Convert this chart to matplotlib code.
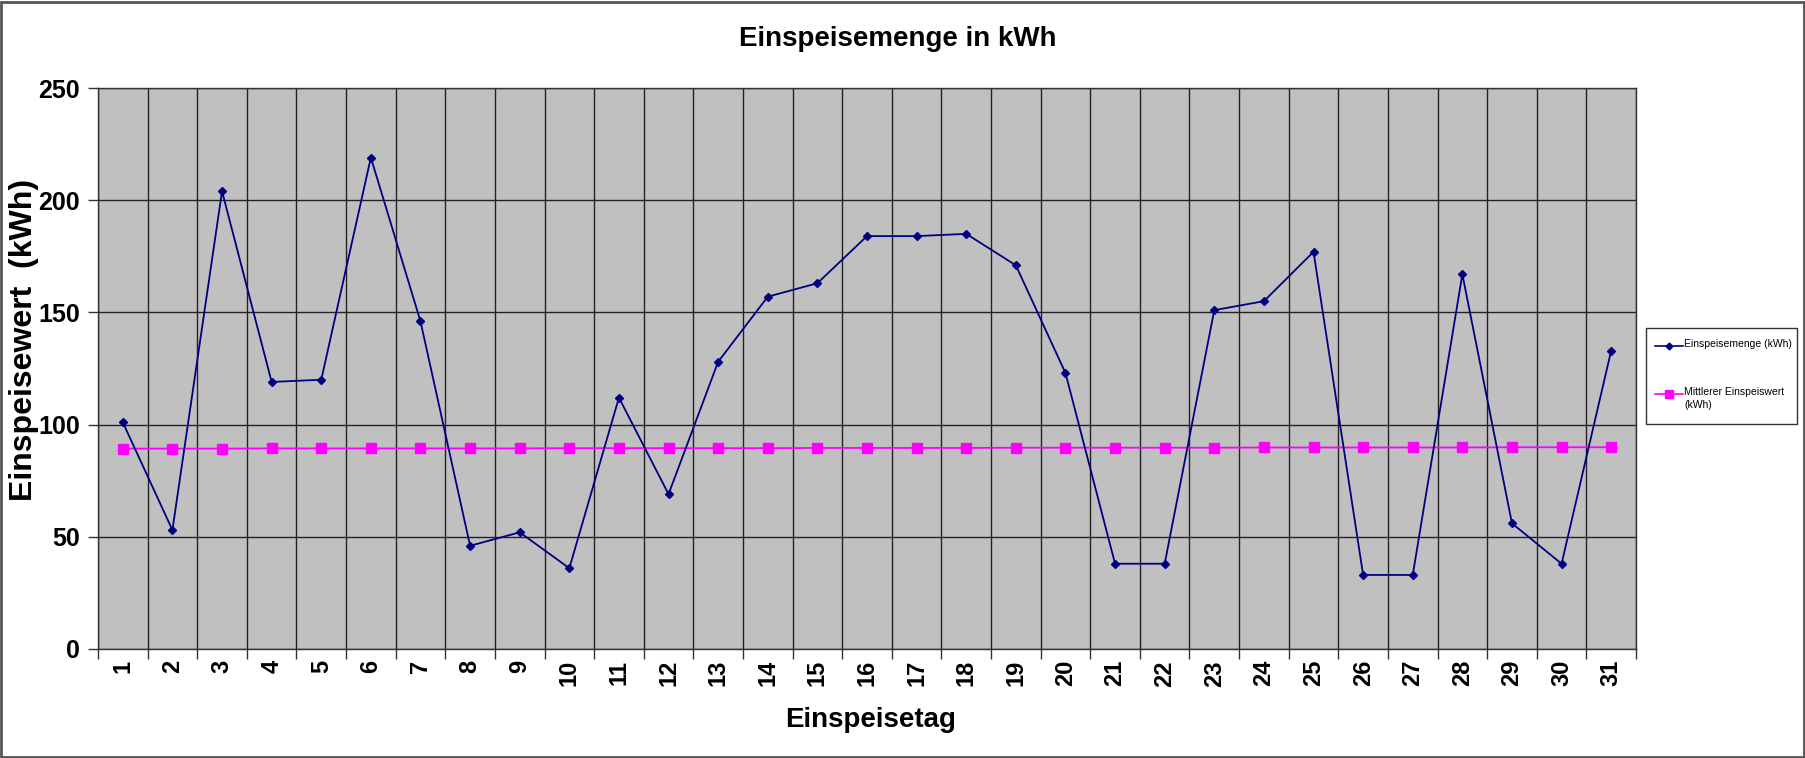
import matplotlib
matplotlib.use("Agg")
import matplotlib.pyplot as plt
from matplotlib.patches import Rectangle
from matplotlib.lines import Line2D

days = list(range(1, 32))
einspeisemenge = [101, 53, 204, 119, 120, 219, 146, 46, 52, 36, 112, 69, 128, 157, 163,
                  184, 184, 185, 171, 123, 38, 38, 151, 155, 177, 33, 33, 167, 56, 38, 133]
mittlerer = [89.3, 89.3, 89.3, 89.4, 89.4, 89.4, 89.4, 89.4, 89.4, 89.5, 89.5, 89.5, 89.5,
             89.5, 89.6, 89.6, 89.6, 89.6, 89.7, 89.7, 89.7, 89.7, 89.7, 89.8, 89.8, 89.8,
             89.8, 89.8, 89.9, 89.9, 89.9]
title = "Einspeisemenge in kWh"
xlabel = "Einspeisetag"
ylabel = "Einspeisewert  (kWh)"
series_names = ["Einspeisemenge (kWh)", "Mittlerer Einspeiswert\n(kWh)"]

plt.rcParams['font.family'] = ['Liberation Sans', 'DejaVu Sans']

W, H = 1806, 758
fig = plt.figure(figsize=(W / 100, H / 100), dpi=100)
fig.patch.set_facecolor('white')
# figure border
fig.add_artist(Rectangle((1 / W, 1 / H), 1 - 3 / W, 1 - 3 / H, transform=fig.transFigure,
                         fill=False, edgecolor='#555555', linewidth=2))

left, right, top, bottom = 98, 1636, 88, 649
ax = fig.add_axes([left / W, 1 - bottom / H, (right - left) / W, (bottom - top) / H])
ax.set_facecolor('#C0C0C0')

ax.plot(days, einspeisemenge, color='#000080', linewidth=1.3, marker='D', markersize=4.5,
        markerfacecolor='#000080', markeredgecolor='#000080', zorder=4,
        label=series_names[0])
ax.plot(days, mittlerer, color='#FF00FF', linewidth=1.3, marker='s', markersize=7,
        markerfacecolor='#FF00FF', markeredgecolor='#FF00FF', zorder=3,
        label=series_names[1])

ax.set_xlim(0.5, 31.5)
ax.set_ylim(0, 250)
ax.set_yticks([0, 50, 100, 150, 200, 250])
ax.set_yticklabels(['0', '50', '100', '150', '200', '250'], fontsize=18, fontweight='bold')

# category ticks at boundaries, labels at centers
ax.set_xticks([d - 0.5 for d in days] + [31.5])
ax.set_xticklabels([])
ax.set_xticks(days, minor=True)
ax.set_xticklabels([str(d) for d in days], minor=True, rotation=90, fontsize=17,
                   fontweight='bold')
ax.tick_params(axis='x', which='minor', length=0, pad=8)
ax.tick_params(axis='x', which='major', length=7, width=1, color='#333333', direction='out')
ax.tick_params(axis='y', length=7, width=1, color='#333333', direction='out', pad=6)

ax.grid(True, which='major', color='#222222', linewidth=1.0)
ax.set_axisbelow(True)
for s in ax.spines.values():
    s.set_color('#333333')
    s.set_linewidth(1)

fig.text(898 / W, 1 - 39 / H, title, fontsize=20, fontweight='bold', ha='center', va='center')
fig.text(871 / W, 1 - 720 / H, xlabel, fontsize=20, fontweight='bold', ha='center',
         va='center')
fig.text(24 / W, 1 - 340 / H, ylabel, fontsize=23, fontweight='bold', ha='center',
         va='center', rotation=90)

# legend box
lx0, ly0, lx1, ly1 = 1646, 328, 1797, 424
fig.add_artist(Rectangle((lx0 / W, 1 - ly1 / H), (lx1 - lx0) / W, (ly1 - ly0) / H,
                         transform=fig.transFigure, fill=True, facecolor='white',
                         edgecolor='#333333', linewidth=1))
entries = [(346, '#000080', 'D', 3.5, series_names[0]),
           (394, '#FF00FF', 's', 5.5, series_names[1])]
for yy, c, m, ms, txt in entries:
    fig.add_artist(Line2D([1655 / W, 1683 / W], [1 - yy / H, 1 - yy / H],
                          transform=fig.transFigure, color=c, linewidth=1.2))
    fig.add_artist(Line2D([1669 / W], [1 - yy / H], transform=fig.transFigure, color=c,
                          marker=m, markersize=ms, markerfacecolor=c, markeredgecolor=c))
    fig.text(1684 / W, 1 - (yy - 7) / H, txt, fontsize=7.5, va='top', ha='left',
             linespacing=1.35)

fig.savefig('out.png', dpi=100)
